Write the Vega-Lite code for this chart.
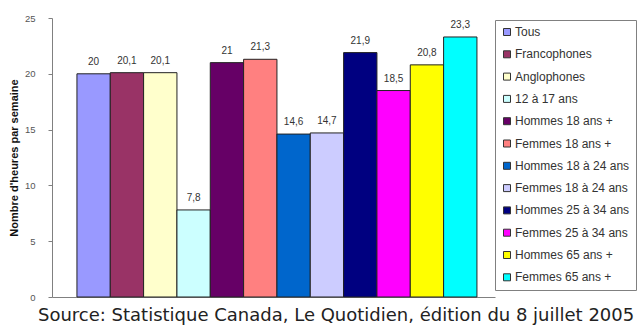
{
  "$schema": "https://vega.github.io/schema/vega-lite/v6.json",
  "autosize": "none",
  "width": 443,
  "height": 279,
  "padding": {"left": 52, "top": 18, "right": 143, "bottom": 31},
  "background": "white",
  "config": {"view": {"stroke": null}, "font": "Liberation Sans"},
  "title": {
    "text": "Source: Statistique Canada, Le Quotidien, édition du 8 juillet 2005",
    "orient": "bottom",
    "anchor": "start",
    "frame": "group",
    "dx": -14,
    "offset": 5,
    "font": "DejaVu Sans",
    "fontSize": 18,
    "fontWeight": "normal",
    "color": "#222"
  },
  "data": {
    "values": [
      {"groupe": "Tous", "heures": 20.0, "label": "20"},
      {"groupe": "Francophones", "heures": 20.1, "label": "20,1"},
      {"groupe": "Anglophones", "heures": 20.1, "label": "20,1"},
      {"groupe": "12 à 17 ans", "heures": 7.8, "label": "7,8"},
      {"groupe": "Hommes 18 ans +", "heures": 21.0, "label": "21"},
      {"groupe": "Femmes 18 ans +", "heures": 21.3, "label": "21,3"},
      {"groupe": "Hommes 18 à 24 ans", "heures": 14.6, "label": "14,6"},
      {"groupe": "Femmes 18 à 24 ans", "heures": 14.7, "label": "14,7"},
      {"groupe": "Hommes 25 à 34 ans", "heures": 21.9, "label": "21,9"},
      {"groupe": "Femmes 25 à 34 ans", "heures": 18.5, "label": "18,5"},
      {"groupe": "Hommes 65 ans +", "heures": 20.8, "label": "20,8"},
      {"groupe": "Femmes 65 ans +", "heures": 23.3, "label": "23,3"}
    ]
  },
  "encoding": {
    "x": {
      "field": "groupe",
      "type": "nominal",
      "sort": null,
      "scale": {"paddingInner": 0, "paddingOuter": 0.645, "align": 0.58},
      "axis": {"labels": false, "ticks": false, "title": null, "domainColor": "#808080", "domainWidth": 1}
    },
    "y": {
      "field": "heures",
      "type": "quantitative",
      "scale": {"domain": [0, 25], "nice": false},
      "axis": {
        "values": [0, 5, 10, 15, 20, 25],
        "title": "Nombre d'heures par semaine",
        "titleFont": "Liberation Sans",
        "titleFontSize": 11,
        "titleFontWeight": "bold",
        "titleColor": "#111",
        "titlePadding": 5,
        "labelFont": "Liberation Sans",
        "labelFontSize": 9.5,
        "labelColor": "#555",
        "labelPadding": 13,
        "tickSize": 4,
        "tickColor": "#808080",
        "domainColor": "#808080",
        "grid": false
      }
    }
  },
  "layer": [
    {
      "mark": {"type": "bar", "stroke": "#222", "strokeWidth": 1},
      "encoding": {
        "color": {
          "field": "groupe",
          "type": "nominal",
          "sort": null,
          "scale": {
            "domain": ["Tous", "Francophones", "Anglophones", "12 à 17 ans", "Hommes 18 ans +", "Femmes 18 ans +", "Hommes 18 à 24 ans", "Femmes 18 à 24 ans", "Hommes 25 à 34 ans", "Femmes 25 à 34 ans", "Hommes 65 ans +", "Femmes 65 ans +"],
            "range": ["#9999FF", "#993366", "#FFFFCC", "#CCFFFF", "#660066", "#FF8080", "#0066CC", "#CCCCFF", "#000080", "#FF00FF", "#FFFF00", "#00FFFF"]
          },
          "legend": {
            "title": null,
            "orient": "none",
            "legendX": 443,
            "legendY": 2,
            "padding": 6,
            "fillColor": "white",
            "strokeColor": "#808080",
            "symbolType": "square",
            "symbolSize": 49,
            "symbolStrokeColor": "#333",
            "symbolStrokeWidth": 1,
            "labelFont": "Liberation Sans",
            "labelFontSize": 12,
            "labelColor": "#333",
            "labelOffset": 2,
            "rowPadding": 10.3,
            "labelLimit": 200
          }
        }
      }
    },
    {
      "mark": {"type": "text", "baseline": "bottom", "dy": -7, "fontSize": 10, "color": "#333", "font": "Liberation Sans"},
      "encoding": {"text": {"field": "label"}}
    }
  ]
}
